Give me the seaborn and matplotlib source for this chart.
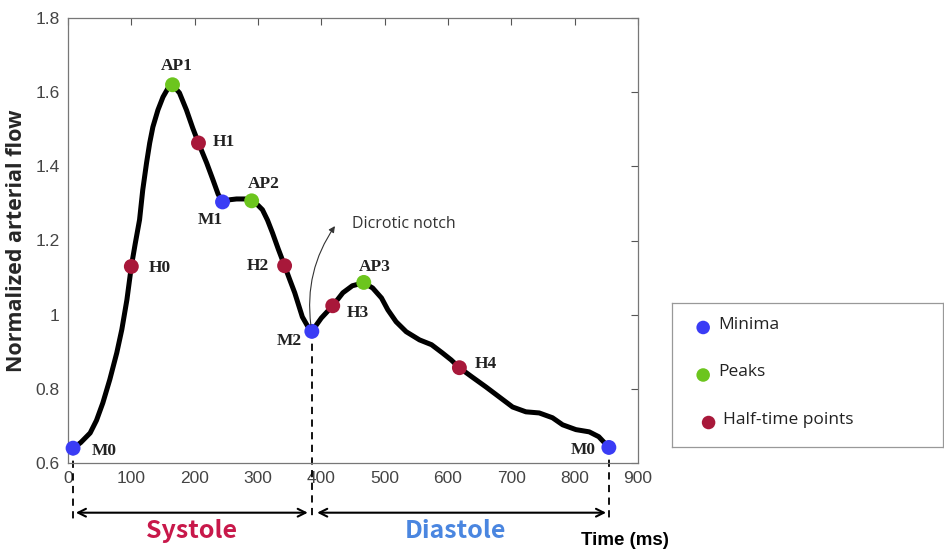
import numpy as np
import pandas as pd
import matplotlib.pyplot as plt
import seaborn as sns

# pulse waveform
curve_t = [8, 20, 35, 45, 55, 66, 77, 85, 93, 100, 106, 113, 118, 124, 129, 134, 142, 150, 158, 165,
           176, 187, 197, 206, 219, 229, 237, 244, 256, 266, 280, 290, 300, 307, 315, 323, 332, 342,
           350, 358, 370, 378, 385,
           400, 418, 434, 449, 467, 481, 495, 505, 518, 534, 555, 574, 591, 605, 618,
           638, 660, 681, 702, 723, 744, 765, 781, 802, 823, 838, 854]
curve_y = [0.64, 0.655, 0.681, 0.715, 0.762, 0.825, 0.897, 0.96, 1.04, 1.13, 1.19, 1.256, 1.336, 1.409, 1.463, 1.506, 1.552, 1.587, 1.611, 1.62,
           1.598, 1.552, 1.503, 1.463, 1.409, 1.363, 1.325, 1.304, 1.31, 1.312, 1.312, 1.307, 1.295, 1.283, 1.255, 1.22, 1.177, 1.132,
           1.095, 1.059, 0.994, 0.97, 0.955,
           0.991, 1.024, 1.059, 1.078, 1.086, 1.072, 1.045, 1.013, 0.981, 0.954, 0.932, 0.919, 0.897, 0.878, 0.857,
           0.832, 0.805, 0.778, 0.751, 0.738, 0.735, 0.722, 0.703, 0.69, 0.684, 0.671, 0.642]

# characteristic points
pt_name = ['M0', 'H0', 'AP1', 'H1', 'M1', 'AP2', 'H2', 'M2', 'H3', 'AP3', 'H4', 'M0']
pt_t = [8, 100, 165, 206, 244, 290, 342, 385, 418, 467, 618, 854]
pt_y = [0.64, 1.13, 1.62, 1.463, 1.304, 1.307, 1.132, 0.955, 1.024, 1.087, 0.857, 0.642]
pt_kind = ['Minima', 'Half-time points', 'Peaks', 'Half-time points', 'Minima', 'Peaks',
           'Half-time points', 'Minima', 'Half-time points', 'Peaks', 'Half-time points', 'Minima']
# label positions (data coords)
lab_t = [57, 145, 172, 246, 224, 309, 299, 350, 457, 484, 660, 813]
lab_y = [0.633, 1.127, 1.671, 1.466, 1.256, 1.353, 1.13, 0.929, 1.005, 1.129, 0.867, 0.636]

kind_order = ['Minima', 'Peaks', 'Half-time points']
kind_colors = {'Minima': '#3a3cf5', 'Peaks': '#6cc51e', 'Half-time points': '#a8183a'}

sns.set_style('white')
plt.rcParams['font.family'] = ['Liberation Sans', 'DejaVu Sans']

fig = plt.figure(figsize=(9.44, 5.53), dpi=100)
ax = fig.add_axes([68 / 944, 90 / 553, 570 / 944, 445 / 553])

curve = pd.DataFrame({'t': curve_t, 'y': curve_y})
sns.lineplot(data=curve, x='t', y='y', sort=False, color='black', linewidth=3.6, ax=ax, zorder=2,
             solid_joinstyle='round', solid_capstyle='round')

pts = pd.DataFrame({'t': pt_t, 'y': pt_y, 'kind': pt_kind})
sns.scatterplot(data=pts, x='t', y='y', hue='kind', palette=kind_colors, s=115,
                edgecolor='none', legend=False, ax=ax, zorder=3, clip_on=False)

for name, tx, ty in zip(pt_name, lab_t, lab_y):
    ax.text(tx, ty, name, ha='center', va='center', fontsize=12.5, fontweight='bold',
            family=['Liberation Serif', 'DejaVu Serif'], color='#222222')

ax.set_xlim(0, 900)
ax.set_ylim(0.6, 1.8)
ax.set_xticks(np.arange(0, 901, 100))
ax.set_yticks([0.6, 0.8, 1.0, 1.2, 1.4, 1.6, 1.8])
ax.set_yticklabels(['0.6', '0.8', '1', '1.2', '1.4', '1.6', '1.8'])
ax.tick_params(direction='in', length=5, width=0.8, color='#555555', labelcolor='#444444',
               labelsize=12.5, top=True, right=True, pad=6)
for sp in ax.spines.values():
    sp.set_color('#777777')
    sp.set_linewidth(0.9)
ax.set_xlabel('')
ax.set_ylabel('Normalized arterial flow', fontsize=15.5, fontweight='bold', labelpad=6,
              family=['Open Sans', 'DejaVu Sans'])

# dicrotic notch annotation
ax.annotate('', xy=(424, 1.245), xytext=(384, 0.965),
            arrowprops=dict(arrowstyle='-|>', color='#333333', lw=0.8,
                            connectionstyle='arc3,rad=-0.2', mutation_scale=9))
ax.text(448, 1.245, 'Dicrotic notch', ha='left', va='center', fontsize=11.5, color='#333333',
        family=['Open Sans', 'DejaVu Sans'])

# phase boundaries below the axis
for bx, top in [(8, 0.64), (385, 0.955), (854, 0.642)]:
    ax.plot([bx, bx], [top, 0.45], color='black', lw=1.3, ls=(0, (4, 3)), clip_on=False, zorder=1)
arrow_y = 0.466
ax.annotate('', xy=(8, arrow_y), xytext=(383, arrow_y), annotation_clip=False,
            arrowprops=dict(arrowstyle='<->', color='black', lw=1.5, mutation_scale=14))
ax.annotate('', xy=(389, arrow_y), xytext=(854, arrow_y), annotation_clip=False,
            arrowprops=dict(arrowstyle='<->', color='black', lw=1.5, mutation_scale=14))
ax.text(195, 0.417, 'Systole', ha='center', va='center', fontsize=18, fontweight='bold',
        color='#c8184a', family=['Noto Sans CJK SC', 'DejaVu Sans'], clip_on=False)
ax.text(612, 0.417, 'Diastole', ha='center', va='center', fontsize=18, fontweight='bold',
        color='#4a86e0', family=['Noto Sans CJK SC', 'DejaVu Sans'], clip_on=False)
ax.text(880, 0.39, 'Time (ms)', ha='center', va='center', fontsize=13.5, fontweight='bold',
        color='black', clip_on=False)

# legend box
lax = fig.add_axes([672 / 944, 106 / 553, 271 / 944, 144 / 553])
lax.set_xlim(0, 1)
lax.set_ylim(0, 1)
lax.set_xticks([])
lax.set_yticks([])
for sp in lax.spines.values():
    sp.set_color('#999999')
    sp.set_linewidth(0.9)
leg_y = [0.83, 0.5, 0.17]
leg_x = [0.115, 0.115, 0.135]
for kind, lx, ly in zip(kind_order, leg_x, leg_y):
    lax.scatter([lx], [ly], s=95, color=kind_colors[kind], edgecolor='none')
    lax.text(lx + 0.055, ly + 0.02, kind, ha='left', va='center', fontsize=12.5, color='#222222',
             family=['Open Sans', 'DejaVu Sans'])

fig.savefig('out.png', dpi=100)
